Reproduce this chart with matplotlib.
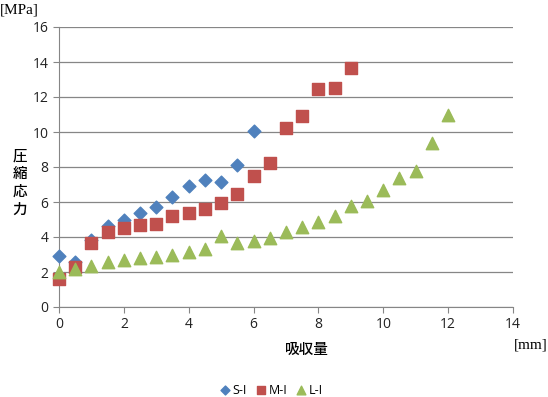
import matplotlib

matplotlib.use("Agg")
import matplotlib.pyplot as plt  # noqa: E402

plt.rcParams["font.family"] = ["Open Sans", "Noto Sans CJK JP", "DejaVu Sans"]

# data (x: absorption [mm], y: compressive stress [MPa])
s_x = [0, 0.5, 1, 1.5, 2, 2.5, 3, 3.5, 4, 4.5, 5, 5.5, 6]
s_y = [2.9, 2.6, 3.85, 4.65, 4.95, 5.4, 5.7, 6.3, 6.9, 7.25, 7.15, 8.1, 10.05]

m_x = [0, 0.5, 1, 1.5, 2, 2.5, 3, 3.5, 4, 4.5, 5, 5.5, 6, 6.5, 7, 7.5, 8, 8.5, 9]
m_y = [1.6, 2.3, 3.65, 4.3, 4.5, 4.7, 4.75, 5.2, 5.4, 5.6, 5.95, 6.45, 7.5, 8.25,
       10.25, 10.9, 12.45, 12.5, 13.65]

l_x = [0, 0.5, 1, 1.5, 2, 2.5, 3, 3.5, 4, 4.5, 5, 5.5, 6, 6.5, 7, 7.5, 8, 8.5, 9,
       9.5, 10, 10.5, 11, 11.5, 12]
l_y = [2.0, 2.15, 2.35, 2.6, 2.7, 2.8, 2.85, 3.0, 3.15, 3.3, 4.05, 3.65, 3.8, 3.95,
       4.3, 4.6, 4.85, 5.2, 5.75, 6.05, 6.7, 7.4, 7.75, 9.35, 11.0]

x_ticks = list(range(0, 15, 2))
y_ticks = list(range(0, 17, 2))

fig = plt.figure(figsize=(5.48, 3.97), dpi=100)
ax = fig.add_axes([59 / 548, 1 - 307 / 397, (513 - 59) / 548, (307 - 27) / 397])

ax.scatter(s_x, s_y, marker="D", s=42, c="#4F81BD", label="S-I", zorder=3, clip_on=False)
ax.scatter(m_x, m_y, marker="s", s=70, c="#C0504D", label="M-I", zorder=3, clip_on=False)
ax.scatter(l_x, l_y, marker="^", s=80, c="#9BBB59", label="L-I", zorder=3, clip_on=False)

ax.set_xlim(0, 14)
ax.set_ylim(0, 16)
ax.set_xticks(x_ticks)
ax.set_yticks(y_ticks)
ax.tick_params(labelsize=10, color="#868686", length=4, labelcolor="#222222")
ax.grid(axis="y", color="#868686", linewidth=0.9)
ax.set_axisbelow(True)
for side in ("top", "right"):
    ax.spines[side].set_visible(False)
for side in ("left", "bottom"):
    ax.spines[side].set_color("#868686")

fig.text(307 / 548, 1 - 350 / 397, "吸収量", ha="center", va="center",
         fontsize=10.5, family=["Noto Sans CJK JP"], fontweight="medium")
fig.text(20 / 548, 1 - 183 / 397, "圧\n縮\n応\n力", ha="center", va="center",
         fontsize=10.5, family=["Noto Sans CJK JP"], fontweight="medium", linespacing=1.35)
fig.text(0, 1 - 10 / 397, "[MPa]", ha="left", va="center", fontsize=11,
         family=["Liberation Serif"])
fig.text(548 / 548, 1 - 345 / 397, "[mm]", ha="right", va="center", fontsize=11,
         family=["Liberation Serif"])

fig.legend(loc="center", bbox_to_anchor=(270 / 548, 1 - 390 / 397), ncol=3,
           frameon=False, fontsize=9, handletextpad=0.0, columnspacing=0.5,
           markerscale=0.7, borderaxespad=0, handlelength=1.2)

fig.savefig("out.png", dpi=100)
